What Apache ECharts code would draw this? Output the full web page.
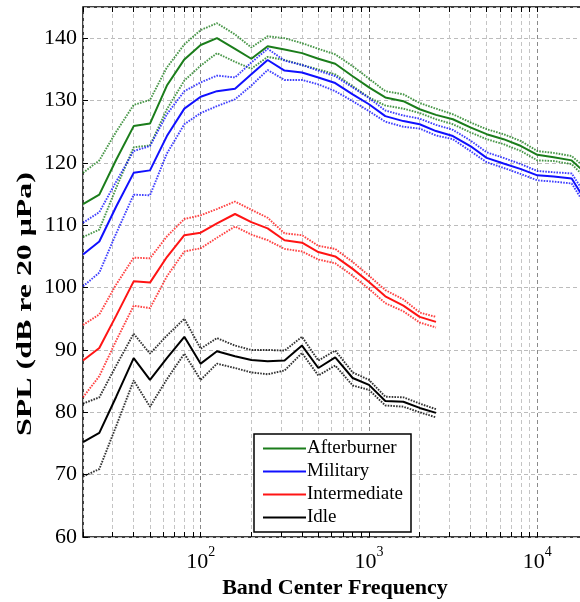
<!DOCTYPE html>
<html><head><meta charset="utf-8">
<script src="https://cdn.jsdelivr.net/npm/echarts@6/dist/echarts.min.js"></script>
<style>html,body{margin:0;padding:0;background:#fff}#c{width:580px;height:602px}</style>
</head><body><div id="c"></div>
<script>
// 1/3-octave band centre frequencies (Hz)
const freqs = [20,25,31.5,40,50,63,80,100,125,160,200,250,315,400,500,630,800,1000,1250,1600,2000,2500,3150,4000,5000,6300,8000,10000,12500,16000,20000];

// Afterburner
const abMean = [113.4,114.9,120.5,125.9,126.3,132.4,136.6,138.9,140.0,138.3,136.7,138.7,138.2,137.6,136.7,135.9,133.9,132.1,130.5,129.9,128.6,127.7,127.0,125.7,124.6,123.8,122.7,121.3,120.9,120.4,118.0];
const abHigh = [118.4,120.4,125.0,129.3,130.1,135.3,139.0,141.3,142.4,140.6,138.5,140.3,140.0,139.2,138.3,137.4,135.5,133.5,131.5,131.0,129.6,128.7,127.8,126.5,125.4,124.6,123.5,121.9,121.6,121.1,118.8];
const abLow  = [108.1,109.3,116.0,122.5,122.8,128.6,133.2,135.6,137.6,136.2,135.1,137.0,136.5,135.7,135.0,134.2,132.3,130.5,129.2,128.7,128.0,127.0,126.2,124.9,123.8,123.0,121.9,120.4,120.3,119.8,117.2];

// Military
const milMean = [105.3,107.4,113.0,118.4,118.8,124.3,128.7,130.6,131.5,131.9,134.2,136.5,134.8,134.5,133.7,132.8,131.0,129.4,127.5,126.7,126.2,125.1,124.3,122.7,120.8,119.9,119.0,118.0,117.8,117.5,113.3];
const milHigh = [110.4,112.1,117.0,121.9,122.7,127.8,131.5,132.9,134.0,133.7,136.1,138.3,136.4,135.7,134.8,133.9,132.1,130.4,128.4,127.6,127.1,126.1,125.3,123.6,121.7,120.8,119.8,118.7,118.5,118.3,114.3];
const milLow  = [100.2,102.4,108.7,114.9,114.8,121.5,126.2,128.0,129.1,130.2,132.4,134.9,133.3,133.3,132.6,131.5,129.9,128.3,126.6,125.8,125.5,124.4,123.8,121.9,120.1,119.2,118.2,117.2,117.0,116.7,112.5];

// Intermediate (20 Hz - 2.5 kHz)
const intMean = [88.3,90.3,95.5,101.0,100.8,104.9,108.4,108.8,110.3,111.8,110.5,109.5,107.6,107.2,105.7,105.0,103.0,100.9,98.6,97.1,95.3,94.5];
const intHigh = [94.0,95.7,100.5,104.8,104.7,108.2,111.0,111.6,112.6,113.8,112.5,111.2,108.7,108.4,106.7,106.2,104.1,101.9,99.6,98.1,96.0,95.3];
const intLow  = [82.4,85.8,91.5,97.1,96.7,101.8,105.8,106.3,108.0,109.8,108.5,107.6,106.2,105.8,104.5,103.9,101.9,99.8,97.5,96.2,94.4,93.6];

// Idle (20 Hz - 2.5 kHz)
const idleMean = [75.2,76.7,82.5,88.7,85.2,88.7,92.1,87.8,89.8,89.0,88.4,88.2,88.3,90.7,87.1,88.8,85.5,84.4,81.8,81.7,80.7,79.9];
const idleHigh = [81.4,82.4,87.5,92.6,89.4,92.3,95.0,90.2,91.9,90.7,90.0,90.0,89.9,92.1,88.3,89.9,86.4,85.2,82.5,82.4,81.4,80.5];
const idleLow  = [69.7,70.9,77.8,85.1,80.9,85.3,89.4,85.2,87.8,87.1,86.4,86.1,86.7,89.5,85.9,87.5,84.3,83.6,81.1,80.9,80.0,79.2];

const xTickValues = [20,30,40,50,60,70,80,90,100,200,300,400,500,600,700,800,900,1000,2000,3000,4000,5000,6000,7000,8000,9000,10000,20000];
const xLabelValues = [100,1000,10000];

const seriesNames = ['Afterburner','Military','Intermediate','Idle'];
const colors = ['#1b7d1b','#1010ff','#ff1414','#000000'];
const groups = [[abMean,abHigh,abLow],[milMean,milHigh,milLow],[intMean,intHigh,intLow],[idleMean,idleHigh,idleLow]];

function pairs(vals){ return vals.map((v,i)=>[freqs[i], v]); }

const FONT = 'Liberation Serif';
const series = [];
groups.forEach((g, k) => {
  [1,2].forEach(j => {
    series.push({
      name: seriesNames[k] + ' bound' + j, type: 'line', data: pairs(g[j]),
      symbol: 'none', silent: true, z: 2,
      lineStyle: { color: colors[k], width: 1.9, type: [1.6,1.2], opacity: 0.8 },
      itemStyle: { color: colors[k] }
    });
  });
  series.push({
    name: seriesNames[k], type: 'line', data: pairs(g[0]),
    symbol: 'none', silent: true, z: 3,
    lineStyle: { color: colors[k], width: 2 },
    itemStyle: { color: colors[k] }
  });
});

const splitColors = ['#c4c4c4','#c4c4c4','#c4c4c4','#c4c4c4','#c4c4c4','#c4c4c4','#c4c4c4','#c4c4c4','#8a8a8a'];

const option = {
  animation: false,
  backgroundColor: '#fff',
  grid: { left: 83, top: 7, right: -8, bottom: 65, show: true, borderColor: '#000', borderWidth: 1.5, backgroundColor: 'transparent', containLabel: false, outerBoundsMode: 'none' },
  legend: {
    data: seriesNames, orient: 'vertical', left: 254, top: 434,
    icon: 'rect', itemWidth: 43, itemHeight: 2, itemGap: 4,
    padding: [5, 8, 5, 9],
    borderColor: '#000', borderWidth: 1.5, backgroundColor: '#fff',
    textStyle: { fontFamily: FONT, fontSize: 19, color: '#000', lineHeight: 19, padding: [0,0,0,-4] },
    selectedMode: false
  },
  xAxis: [{
    type: 'log', logBase: 10, min: 20, max: 20000, position: 'bottom',
    axisLine: { show: false },
    axisTick: { show: true, inside: true, length: 5, customValues: xTickValues, lineStyle: { color: '#000', width: 1 } },
    axisLabel: {
      customValues: xLabelValues, margin: 8,
      formatter: v => '{b|10}{s|' + Math.round(Math.log10(v)) + '}',
      rich: {
        b: { fontFamily: FONT, fontSize: 22, color: '#000', lineHeight: 28, verticalAlign: 'bottom' },
        s: { fontFamily: FONT, fontSize: 14, color: '#000', lineHeight: 28, verticalAlign: 'top' }
      }
    },
    splitLine: { show: true, lineStyle: { color: splitColors, type: [4,3], width: 1 } }
  }, {
    type: 'log', logBase: 10, min: 20, max: 20000, position: 'top',
    axisLine: { show: false },
    axisTick: { show: true, inside: true, length: 5, customValues: xTickValues, lineStyle: { color: '#000', width: 1 } },
    axisLabel: { show: false },
    splitLine: { show: false }
  }],
  yAxis: {
    type: 'value', min: 60, max: 145, interval: 10,
    axisLine: { show: false },
    axisTick: { show: true, inside: true, length: 5, lineStyle: { color: '#000', width: 1 } },
    axisLabel: { fontFamily: FONT, fontSize: 22, color: '#000', margin: 6, showMaxLabel: false },
    splitLine: { show: true, lineStyle: { color: '#bcbcbc', type: [4,3], width: 1 } }
  },
  graphic: [{
    type: 'text', x: 25, y: 304, rotation: Math.PI / 2, scaleX: 1.45, scaleY: 1,
    style: { text: 'SPL (dB re 20 μPa)', fontFamily: FONT, fontSize: 22, fontWeight: 'bold', fill: '#000', align: 'center', verticalAlign: 'middle' }
  }, {
    type: 'text', x: 335, y: 588,
    style: { text: 'Band Center Frequency', fontFamily: FONT, fontSize: 22, fontWeight: 'bold', fill: '#000', align: 'center', verticalAlign: 'middle' }
  }],
  series: series
};
const chart = echarts.init(document.getElementById('c'), null, { renderer: 'canvas' });
chart.setOption(option);
</script>
</body></html>
